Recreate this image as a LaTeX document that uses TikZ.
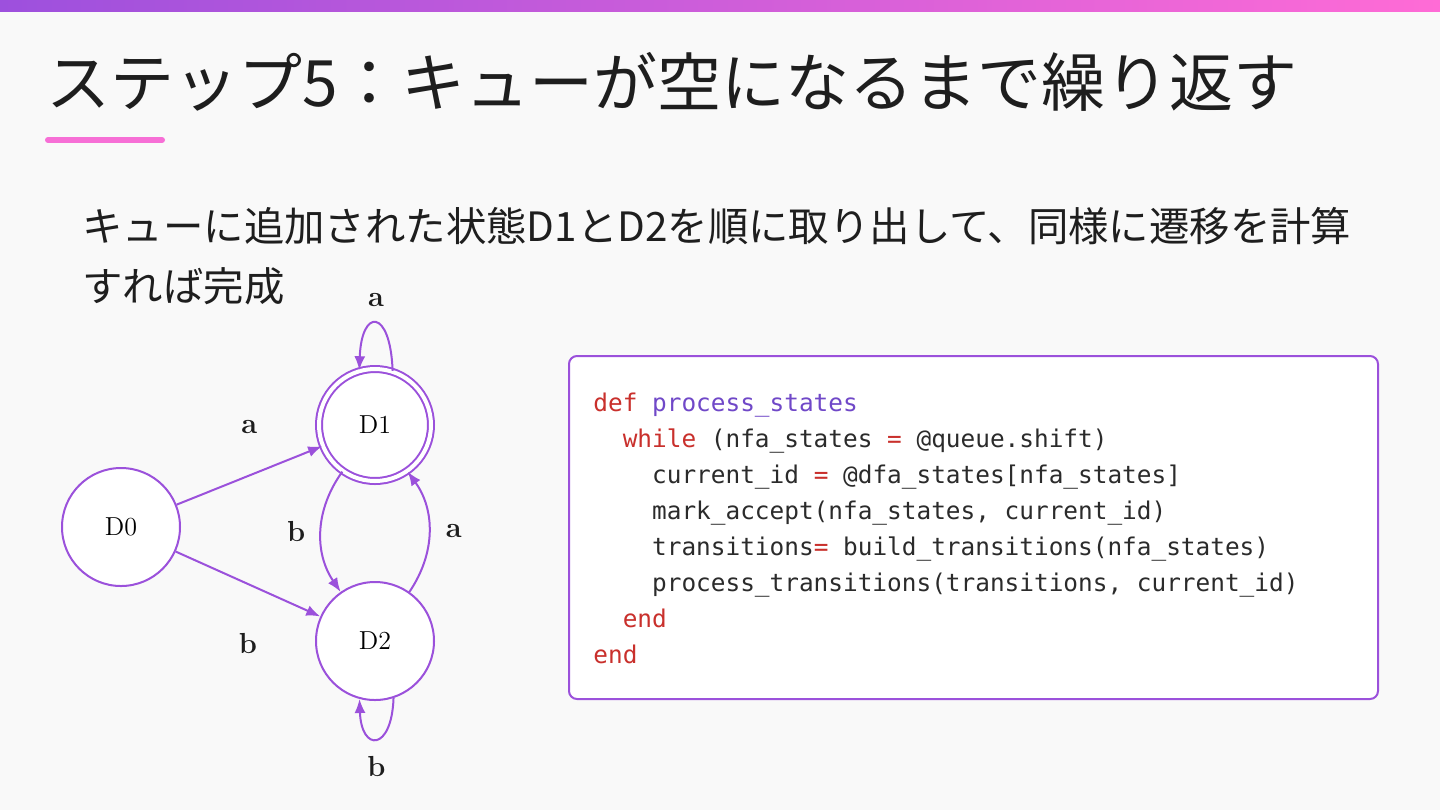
\documentclass[tikz,border=0pt]{standalone}
\usepackage{fontspec}
\usepackage{tikz}
\usetikzlibrary{arrows.meta,positioning,calc}
\newfontfamily\jpfont{Noto Sans CJK JP}
\newfontfamily\codefont{DejaVu Sans Mono}
\definecolor{bgcol}{HTML}{F9F9F9}
\definecolor{barleft}{HTML}{9D50DD}
\definecolor{barright}{HTML}{FF6BD6}
\definecolor{accent}{HTML}{F76FD6}
\definecolor{nodepurple}{HTML}{9B51DB}
\definecolor{inkcol}{HTML}{1E1E1E}
\definecolor{kwred}{HTML}{C9302C}
\definecolor{fnpurple}{HTML}{7048C8}
\definecolor{codeink}{HTML}{2B2B2B}
\newcommand{\kw}[1]{\textcolor{kwred}{#1}}
\newcommand{\fn}[1]{\textcolor{fnpurple}{#1}}
\newcommand{\ind}[1]{\phantom{#1}}

\begin{document}
\begin{tikzpicture}[
      x=0.5pt, y=-0.5pt,
      state/.style={circle, draw=nodepurple, line width=1pt, fill=white,
                    minimum size=59pt, inner sep=0pt, font=\fontsize{13}{13}\selectfont},
      accept/.style={state, double=white, double distance=2pt, minimum size=56pt},
      edge/.style={-{Latex[length=7pt,width=5.5pt]}, draw=nodepurple, line width=1pt},
      lbl/.style={font=\bfseries\fontsize{14.5}{14.5}\selectfont, text=inkcol, inner sep=0pt},
      codeline/.style={anchor=base west, inner sep=0pt, text=codeink,
                       font=\codefont\fontsize{12.2}{12.2}\selectfont}
    ]
    \useasboundingbox (0,0) rectangle (1440,810);
    \fill[bgcol] (0,0) rectangle (1440,810);
    \shade[left color=barleft, right color=barright] (0,0) rectangle (1440,11);

    % heading
    \node[anchor=base west, inner sep=0pt, text=inkcol,
          font=\jpfont\fontsize{32}{32}\selectfont] (title) at (46,106)
          {ステップ5：キューが空になるまで繰り返す};
    \draw[accent, line width=3pt, line cap=round] (48,140) -- (162,140);

    \node[anchor=base west, inner sep=0pt, text=inkcol,
          font=\jpfont\fontsize{20.2}{20.2}\selectfont] (intro1) at (82,241)
          {キューに追加された状態D1とD2を順に取り出して、同様に遷移を計算};
    \node[anchor=base west, inner sep=0pt, text=inkcol,
          font=\jpfont\fontsize{20.2}{20.2}\selectfont] (intro2) at (82,301)
          {すれば完成};

    % automaton
    \node[state] (d0) at (121,527) {D0};
    \node[accept] (d1) at (375,425) {D1};
    \node[state] (d2) at (375,641) {D2};

    \draw[edge] (d0) -- (d1) node[lbl, midway, yshift=24pt] {a};
    \draw[edge] (d0) -- (d2) node[lbl, midway, yshift=-30pt] {b};
    \draw[edge] (d1) to[bend right=35] node[lbl, midway, xshift=-12.5pt] {b} (d2);
    \draw[edge] (d2) to[bend right=35] node[lbl, midway, xshift=12.5pt] {a} (d1);
    \draw[edge] (d1.72) to[out=92, in=88, looseness=4.8]
          node[lbl, midway, yshift=12pt] {a} (d1.106);
    \draw[edge] (d2.288) to[out=-92, in=-88, looseness=4]
          node[lbl, midway, yshift=-14pt] {b} (d2.255);

    % code
    \draw[draw=nodepurple, line width=1pt, fill=white, rounded corners=4pt]
          (569,356) rectangle (1378,699);
    \foreach \src [count=\i] in {
        {\kw{def} \fn{process\_states}},
        {\ind{xx}\kw{while} (nfa\_states \kw{=} @queue.shift)},
        {\ind{xxxx}current\_id \kw{=} @dfa\_states[nfa\_states]},
        {\ind{xxxx}mark\_accept(nfa\_states, current\_id)},
        {\ind{xxxx}transitions\kw{=} build\_transitions(nfa\_states)},
        {\ind{xxxx}process\_transitions(transitions, current\_id)},
        {\ind{xx}\kw{end}},
        {\kw{end}}}
      \node[codeline] (code\i) at (593,375+36*\i) {\src};
  \end{tikzpicture}
\end{document}
